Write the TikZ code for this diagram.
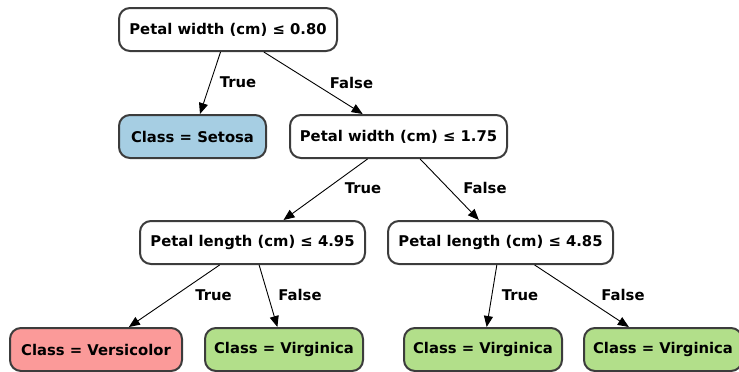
\documentclass[tikz,border=0pt]{standalone}
\usepackage{fontspec}
\setmainfont{DejaVu Sans}
\usetikzlibrary{arrows.meta}
\definecolor{setosa}{HTML}{A6CEE3}
\definecolor{versi}{HTML}{FB9A99}
\definecolor{virgi}{HTML}{B2DF8A}
\definecolor{bord}{HTML}{3C3C3C}
\tikzset{
  box/.style={draw=bord, line width=2pt, rounded corners=11pt, minimum height=43pt,
    inner sep=0pt, fill=white, font=\fontsize{14.8}{17}\selectfont\bfseries},
  lbl/.style={font=\fontsize{14.8}{17}\selectfont\bfseries, inner sep=0pt},
  con/.style={draw=black, line width=0.9pt, -{Triangle[length=11pt,width=9pt]}}
}
\begin{document}
\begin{tikzpicture}[x=1pt,y=-1pt]
\useasboundingbox (0,0) rectangle (739,372);
\node[box, minimum width=218pt] (root) at (228,29.5) {Petal width (cm) ≤ 0.80};
\node[box, minimum width=147pt, fill=setosa] (setosa) at (192.5,136.5) {Class = Setosa};
\node[box, minimum width=217pt] (pw) at (398.5,136.5) {Petal width (cm) ≤ 1.75};
\node[box, minimum width=225pt] (plA) at (252.5,242.5) {Petal length (cm) ≤ 4.95};
\node[box, minimum width=225pt] (plB) at (500.5,242.5) {Petal length (cm) ≤ 4.85};
\node[box, minimum width=172pt, fill=versi] (vers) at (96,349.5) {Class = Versicolor};
\node[box, minimum width=158pt, fill=virgi] (virA) at (284,349.5) {Class = Virginica};
\node[box, minimum width=158pt, fill=virgi] (virB) at (483,349.5) {Class = Virginica};
\node[box, minimum width=158pt, fill=virgi] (virC) at (663,349.5) {Class = Virginica};
\draw[con] (root) -- (setosa);
\draw[con] (root) -- (pw);
\draw[con] (pw) -- (plA);
\draw[con] (pw) -- (plB);
\draw[con] (plA) -- (vers);
\draw[con] (plA) -- (virA);
\draw[con] (plB) -- (virB);
\draw[con] (plB) -- (virC);
\node[lbl] (t1) at (238,82.5) {True};
\node[lbl] (f1) at (351.5,82.5) {False};
\node[lbl] (t2) at (363,188) {True};
\node[lbl] (f2) at (485,188) {False};
\node[lbl] (t3) at (213.5,295) {True};
\node[lbl] (f3) at (300,295) {False};
\node[lbl] (t4) at (520,295) {True};
\node[lbl] (f4) at (623,295) {False};
\end{tikzpicture}
\end{document}
